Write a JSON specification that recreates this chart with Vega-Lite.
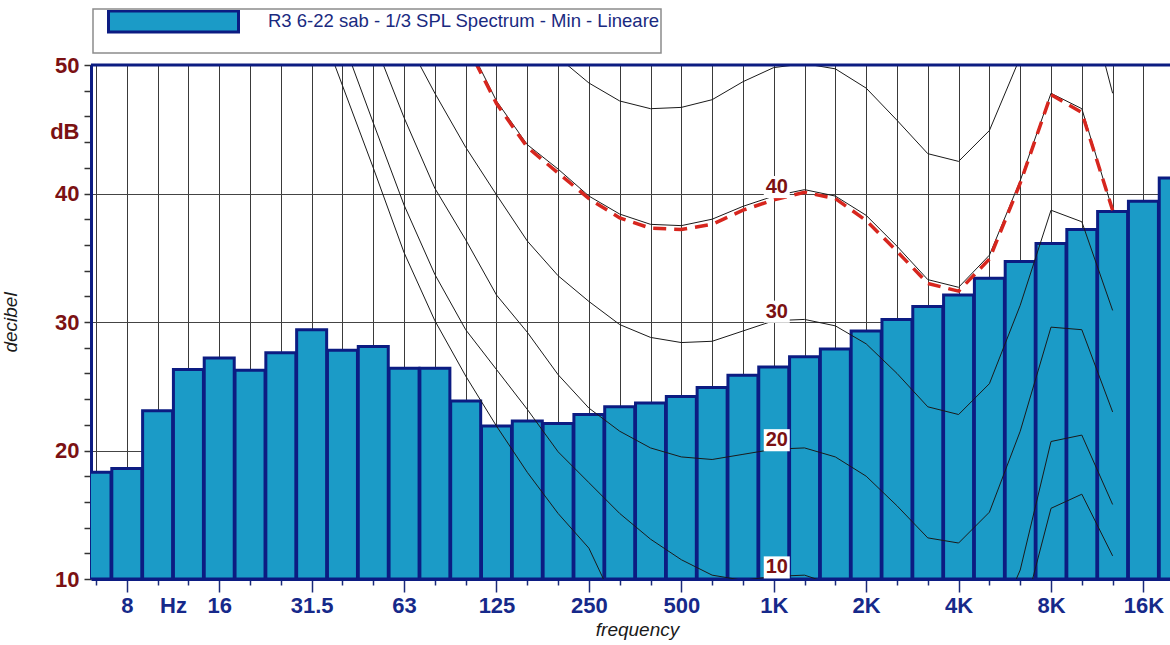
{
  "$schema": "https://vega.github.io/schema/vega-lite/v6.json",
  "autosize": {"type": "none"},
  "width": 1079,
  "height": 514,
  "padding": {"left": 91, "top": 65, "right": 0, "bottom": 66},
  "background": "white",
  "config": {
    "font": "Liberation Sans",
    "view": {"stroke": null},
    "legend": {"strokeWidth": 1.5}
  },
  "datasets": {
    "spectrum": [
      {"band": 0, "freq": "6.3", "spl": 18.3, "series": "R3 6-22 sab - 1/3 SPL Spectrum - Min - Lineare"},
      {"band": 1, "freq": "8", "spl": 18.6, "series": "R3 6-22 sab - 1/3 SPL Spectrum - Min - Lineare"},
      {"band": 2, "freq": "10", "spl": 23.1, "series": "R3 6-22 sab - 1/3 SPL Spectrum - Min - Lineare"},
      {"band": 3, "freq": "12.5", "spl": 26.3, "series": "R3 6-22 sab - 1/3 SPL Spectrum - Min - Lineare"},
      {"band": 4, "freq": "16", "spl": 27.2, "series": "R3 6-22 sab - 1/3 SPL Spectrum - Min - Lineare"},
      {"band": 5, "freq": "20", "spl": 26.25, "series": "R3 6-22 sab - 1/3 SPL Spectrum - Min - Lineare"},
      {"band": 6, "freq": "25", "spl": 27.6, "series": "R3 6-22 sab - 1/3 SPL Spectrum - Min - Lineare"},
      {"band": 7, "freq": "31.5", "spl": 29.4, "series": "R3 6-22 sab - 1/3 SPL Spectrum - Min - Lineare"},
      {"band": 8, "freq": "40", "spl": 27.8, "series": "R3 6-22 sab - 1/3 SPL Spectrum - Min - Lineare"},
      {"band": 9, "freq": "50", "spl": 28.1, "series": "R3 6-22 sab - 1/3 SPL Spectrum - Min - Lineare"},
      {"band": 10, "freq": "63", "spl": 26.4, "series": "R3 6-22 sab - 1/3 SPL Spectrum - Min - Lineare"},
      {"band": 11, "freq": "80", "spl": 26.4, "series": "R3 6-22 sab - 1/3 SPL Spectrum - Min - Lineare"},
      {"band": 12, "freq": "100", "spl": 23.85, "series": "R3 6-22 sab - 1/3 SPL Spectrum - Min - Lineare"},
      {"band": 13, "freq": "125", "spl": 21.9, "series": "R3 6-22 sab - 1/3 SPL Spectrum - Min - Lineare"},
      {"band": 14, "freq": "160", "spl": 22.3, "series": "R3 6-22 sab - 1/3 SPL Spectrum - Min - Lineare"},
      {"band": 15, "freq": "200", "spl": 22.1, "series": "R3 6-22 sab - 1/3 SPL Spectrum - Min - Lineare"},
      {"band": 16, "freq": "250", "spl": 22.8, "series": "R3 6-22 sab - 1/3 SPL Spectrum - Min - Lineare"},
      {"band": 17, "freq": "315", "spl": 23.4, "series": "R3 6-22 sab - 1/3 SPL Spectrum - Min - Lineare"},
      {"band": 18, "freq": "400", "spl": 23.7, "series": "R3 6-22 sab - 1/3 SPL Spectrum - Min - Lineare"},
      {"band": 19, "freq": "500", "spl": 24.2, "series": "R3 6-22 sab - 1/3 SPL Spectrum - Min - Lineare"},
      {"band": 20, "freq": "630", "spl": 24.9, "series": "R3 6-22 sab - 1/3 SPL Spectrum - Min - Lineare"},
      {"band": 21, "freq": "800", "spl": 25.85, "series": "R3 6-22 sab - 1/3 SPL Spectrum - Min - Lineare"},
      {"band": 22, "freq": "1K", "spl": 26.5, "series": "R3 6-22 sab - 1/3 SPL Spectrum - Min - Lineare"},
      {"band": 23, "freq": "1.25K", "spl": 27.3, "series": "R3 6-22 sab - 1/3 SPL Spectrum - Min - Lineare"},
      {"band": 24, "freq": "1.6K", "spl": 27.9, "series": "R3 6-22 sab - 1/3 SPL Spectrum - Min - Lineare"},
      {"band": 25, "freq": "2K", "spl": 29.3, "series": "R3 6-22 sab - 1/3 SPL Spectrum - Min - Lineare"},
      {"band": 26, "freq": "2.5K", "spl": 30.2, "series": "R3 6-22 sab - 1/3 SPL Spectrum - Min - Lineare"},
      {"band": 27, "freq": "3.15K", "spl": 31.2, "series": "R3 6-22 sab - 1/3 SPL Spectrum - Min - Lineare"},
      {"band": 28, "freq": "4K", "spl": 32.1, "series": "R3 6-22 sab - 1/3 SPL Spectrum - Min - Lineare"},
      {"band": 29, "freq": "5K", "spl": 33.4, "series": "R3 6-22 sab - 1/3 SPL Spectrum - Min - Lineare"},
      {"band": 30, "freq": "6.3K", "spl": 34.7, "series": "R3 6-22 sab - 1/3 SPL Spectrum - Min - Lineare"},
      {"band": 31, "freq": "8K", "spl": 36.1, "series": "R3 6-22 sab - 1/3 SPL Spectrum - Min - Lineare"},
      {"band": 32, "freq": "10K", "spl": 37.2, "series": "R3 6-22 sab - 1/3 SPL Spectrum - Min - Lineare"},
      {"band": 33, "freq": "12.5K", "spl": 38.6, "series": "R3 6-22 sab - 1/3 SPL Spectrum - Min - Lineare"},
      {"band": 34, "freq": "16K", "spl": 39.4, "series": "R3 6-22 sab - 1/3 SPL Spectrum - Min - Lineare"},
      {"band": 35, "freq": "20K", "spl": 41.2, "series": "R3 6-22 sab - 1/3 SPL Spectrum - Min - Lineare"}
    ],
    "contours": [
      {"phon": 0, "band": 7, "spl": 54.8}, {"phon": 0, "band": 8, "spl": 48.4}, {"phon": 0, "band": 9, "spl": 42.0},
      {"phon": 0, "band": 10, "spl": 35.4}, {"phon": 0, "band": 11, "spl": 30.1}, {"phon": 0, "band": 12, "spl": 25.8},
      {"phon": 0, "band": 13, "spl": 21.9}, {"phon": 0, "band": 14, "spl": 18.3}, {"phon": 0, "band": 15, "spl": 15.1},
      {"phon": 0, "band": 16, "spl": 12.4}, {"phon": 0, "band": 17, "spl": 7.3}, {"phon": 0, "band": 18, "spl": 4.5},
      {"phon": 0, "band": 19, "spl": 3.0}, {"phon": 0, "band": 20, "spl": 2.0}, {"phon": 0, "band": 21, "spl": 1.0},
      {"phon": 0, "band": 22, "spl": 0.5}, {"phon": 0, "band": 23, "spl": 1.0}, {"phon": 0, "band": 24, "spl": 0.0},
      {"phon": 0, "band": 25, "spl": -2.0}, {"phon": 0, "band": 26, "spl": -5.0}, {"phon": 0, "band": 27, "spl": -7.0},
      {"phon": 0, "band": 28, "spl": -7.5}, {"phon": 0, "band": 29, "spl": -3.0}, {"phon": 0, "band": 30, "spl": 6.3},
      {"phon": 0, "band": 31, "spl": 15.5}, {"phon": 0, "band": 32, "spl": 16.6}, {"phon": 0, "band": 33, "spl": 11.8},

      {"phon": 10, "band": 8, "spl": 52.0}, {"phon": 10, "band": 9, "spl": 45.5}, {"phon": 10, "band": 10, "spl": 39.1},
      {"phon": 10, "band": 11, "spl": 33.7}, {"phon": 10, "band": 12, "spl": 29.4}, {"phon": 10, "band": 13, "spl": 26.3},
      {"phon": 10, "band": 14, "spl": 23.2}, {"phon": 10, "band": 15, "spl": 19.9}, {"phon": 10, "band": 16, "spl": 17.5},
      {"phon": 10, "band": 17, "spl": 15.1}, {"phon": 10, "band": 18, "spl": 13.1}, {"phon": 10, "band": 19, "spl": 11.5},
      {"phon": 10, "band": 20, "spl": 10.3}, {"phon": 10, "band": 21, "spl": 9.9}, {"phon": 10, "band": 22, "spl": 10.2},
      {"phon": 10, "band": 23, "spl": 10.3}, {"phon": 10, "band": 24, "spl": 9.5}, {"phon": 10, "band": 25, "spl": 7.8},
      {"phon": 10, "band": 26, "spl": 5.5}, {"phon": 10, "band": 27, "spl": 3.2}, {"phon": 10, "band": 28, "spl": 2.8},
      {"phon": 10, "band": 29, "spl": 5.2}, {"phon": 10, "band": 30, "spl": 10.7}, {"phon": 10, "band": 31, "spl": 20.7},
      {"phon": 10, "band": 32, "spl": 21.2}, {"phon": 10, "band": 33, "spl": 15.8},

      {"phon": 20, "band": 9, "spl": 52.0}, {"phon": 20, "band": 10, "spl": 45.9}, {"phon": 20, "band": 11, "spl": 40.4},
      {"phon": 20, "band": 12, "spl": 36.4}, {"phon": 20, "band": 13, "spl": 32.1}, {"phon": 20, "band": 14, "spl": 29.2},
      {"phon": 20, "band": 15, "spl": 25.9}, {"phon": 20, "band": 16, "spl": 23.3}, {"phon": 20, "band": 17, "spl": 21.5},
      {"phon": 20, "band": 18, "spl": 20.2}, {"phon": 20, "band": 19, "spl": 19.5}, {"phon": 20, "band": 20, "spl": 19.3},
      {"phon": 20, "band": 21, "spl": 19.7}, {"phon": 20, "band": 22, "spl": 20.1}, {"phon": 20, "band": 23, "spl": 20.2},
      {"phon": 20, "band": 24, "spl": 19.5}, {"phon": 20, "band": 25, "spl": 18.0}, {"phon": 20, "band": 26, "spl": 15.7},
      {"phon": 20, "band": 27, "spl": 13.2}, {"phon": 20, "band": 28, "spl": 12.8}, {"phon": 20, "band": 29, "spl": 15.2},
      {"phon": 20, "band": 30, "spl": 21.5}, {"phon": 20, "band": 31, "spl": 29.6}, {"phon": 20, "band": 32, "spl": 29.4},
      {"phon": 20, "band": 33, "spl": 23.0},

      {"phon": 30, "band": 10, "spl": 52.3}, {"phon": 30, "band": 11, "spl": 47.8}, {"phon": 30, "band": 12, "spl": 43.6},
      {"phon": 30, "band": 13, "spl": 39.9}, {"phon": 30, "band": 14, "spl": 36.3}, {"phon": 30, "band": 15, "spl": 33.6},
      {"phon": 30, "band": 16, "spl": 31.6}, {"phon": 30, "band": 17, "spl": 29.8}, {"phon": 30, "band": 18, "spl": 28.8},
      {"phon": 30, "band": 19, "spl": 28.4}, {"phon": 30, "band": 20, "spl": 28.5}, {"phon": 30, "band": 21, "spl": 29.3},
      {"phon": 30, "band": 22, "spl": 30.1}, {"phon": 30, "band": 23, "spl": 30.2}, {"phon": 30, "band": 24, "spl": 29.7},
      {"phon": 30, "band": 25, "spl": 28.3}, {"phon": 30, "band": 26, "spl": 26.0}, {"phon": 30, "band": 27, "spl": 23.4},
      {"phon": 30, "band": 28, "spl": 22.8}, {"phon": 30, "band": 29, "spl": 25.2}, {"phon": 30, "band": 30, "spl": 31.3},
      {"phon": 30, "band": 31, "spl": 38.7}, {"phon": 30, "band": 32, "spl": 37.8}, {"phon": 30, "band": 33, "spl": 30.9},

      {"phon": 40, "band": 12, "spl": 52.0}, {"phon": 40, "band": 13, "spl": 47.2}, {"phon": 40, "band": 14, "spl": 43.8},
      {"phon": 40, "band": 15, "spl": 41.9}, {"phon": 40, "band": 16, "spl": 39.8}, {"phon": 40, "band": 17, "spl": 38.4},
      {"phon": 40, "band": 18, "spl": 37.6}, {"phon": 40, "band": 19, "spl": 37.5}, {"phon": 40, "band": 20, "spl": 38.0},
      {"phon": 40, "band": 21, "spl": 39.0}, {"phon": 40, "band": 22, "spl": 39.8}, {"phon": 40, "band": 23, "spl": 40.3},
      {"phon": 40, "band": 24, "spl": 39.8}, {"phon": 40, "band": 25, "spl": 38.3}, {"phon": 40, "band": 26, "spl": 35.9},
      {"phon": 40, "band": 27, "spl": 33.3}, {"phon": 40, "band": 28, "spl": 32.7}, {"phon": 40, "band": 29, "spl": 35.2},
      {"phon": 40, "band": 30, "spl": 41.0}, {"phon": 40, "band": 31, "spl": 47.8}, {"phon": 40, "band": 32, "spl": 46.6},
      {"phon": 40, "band": 33, "spl": 38.7},

      {"phon": 50, "band": 14, "spl": 54.0}, {"phon": 50, "band": 15, "spl": 50.6}, {"phon": 50, "band": 16, "spl": 48.6},
      {"phon": 50, "band": 17, "spl": 47.2}, {"phon": 50, "band": 18, "spl": 46.6}, {"phon": 50, "band": 19, "spl": 46.7},
      {"phon": 50, "band": 20, "spl": 47.3}, {"phon": 50, "band": 21, "spl": 48.7}, {"phon": 50, "band": 22, "spl": 49.8},
      {"phon": 50, "band": 23, "spl": 50.1}, {"phon": 50, "band": 24, "spl": 49.7}, {"phon": 50, "band": 25, "spl": 48.2},
      {"phon": 50, "band": 26, "spl": 45.7}, {"phon": 50, "band": 27, "spl": 43.1}, {"phon": 50, "band": 28, "spl": 42.5},
      {"phon": 50, "band": 29, "spl": 44.9}, {"phon": 50, "band": 30, "spl": 50.6}, {"phon": 50, "band": 31, "spl": 57.5},
      {"phon": 50, "band": 32, "spl": 57.0}, {"phon": 50, "band": 33, "spl": 47.8}
    ],
    "fit": [
      {"band": 12, "spl": 51.7}, {"band": 13, "spl": 47.0}, {"band": 14, "spl": 43.6}, {"band": 15, "spl": 41.6},
      {"band": 16, "spl": 39.6}, {"band": 17, "spl": 38.1}, {"band": 18, "spl": 37.3}, {"band": 19, "spl": 37.2},
      {"band": 20, "spl": 37.6}, {"band": 21, "spl": 38.7}, {"band": 22, "spl": 39.5}, {"band": 23, "spl": 40.1},
      {"band": 24, "spl": 39.6}, {"band": 25, "spl": 37.9}, {"band": 26, "spl": 35.5}, {"band": 27, "spl": 33.0},
      {"band": 28, "spl": 32.4}, {"band": 29, "spl": 34.9}, {"band": 30, "spl": 40.8}, {"band": 31, "spl": 47.7},
      {"band": 32, "spl": 46.3}, {"band": 33, "spl": 38.7}
    ]
  },
  "layer": [
    {
      "data": {"name": "spectrum"},
      "mark": {"type": "bar", "width": 30, "stroke": "#0c1c82", "strokeWidth": 3, "clip": true},
      "encoding": {
        "x": {
          "field": "band", "type": "quantitative",
          "scale": {"domain": [0, 34.7], "nice": false, "zero": false},
          "axis": {
            "values": [0,1,2,3,4,5,6,7,8,9,10,11,12,13,14,15,16,17,18,19,20,21,22,23,24,25,26,27,28,29,30,31,32,33,34,2.5],
            "tickCount": 200,
            "labelExpr": "datum.value == 2.5 ? 'Hz' : (datum.value % 3 == 1 ? ['8','16','31.5','63','125','250','500','1K','2K','4K','8K','16K'][(datum.value - 1) / 3] : '')",
            "labelFont": "Liberation Sans", "labelFontSize": 22, "labelFontWeight": "bold", "labelColor": "#16298a",
            "labelPadding": 3, "labelOverlap": false, "labelFlush": false, "labelBound": false,
            "tickSize": {"condition": {"test": "datum.value % 3 == 1 || datum.value == 2.5", "value": 13}, "value": 6},
            "tickOpacity": {"condition": {"test": "datum.value == 2.5", "value": 0}, "value": 1},
            "tickColor": "#1a2a7a", "tickWidth": 1.5,
            "grid": true, "gridColor": "#3a3a3a", "gridWidth": 1,
            "gridOpacity": {"condition": {"test": "datum.value == 2.5", "value": 0}, "value": 1},
            "domainColor": "#0c1c82", "domainWidth": 3,
            "title": "frequency", "titleFont": "Liberation Sans", "titleFontSize": 19, "titleFontStyle": "italic",
            "titleFontWeight": "normal", "titleColor": "#1a1a1a", "titlePadding": 4, "titleX": 546
          }
        },
        "y": {
          "field": "spl", "type": "quantitative",
          "scale": {"domain": [10, 50], "nice": false, "zero": false},
          "axis": {
            "values": [10,12,14,16,18,20,22,24,26,28,30,32,34,36,38,40,42,44,46,48,50,44.8],
            "tickCount": 200,
            "labelExpr": "datum.value == 44.8 ? 'dB' : (datum.value % 10 == 0 ? format(datum.value, 'd') : '')",
            "labelFont": "Liberation Sans", "labelFontSize": 22, "labelFontWeight": "bold", "labelColor": "#7b1113",
            "labelPadding": 5, "labelOverlap": false, "labelFlush": false, "labelBound": false,
            "tickSize": 7, "tickColor": "#333333", "tickWidth": 1.5,
            "tickOpacity": {"condition": {"test": "datum.value == 44.8", "value": 0}, "value": 1},
            "grid": true, "gridColor": "#444444", "gridWidth": 1.2,
            "gridOpacity": {"condition": {"test": "datum.value % 10 == 0", "value": 1}, "value": 0},
            "domainColor": "#0c1c82", "domainWidth": 3,
            "title": "decibel", "titleFont": "Liberation Sans", "titleFontSize": 19, "titleFontStyle": "italic",
            "titleFontWeight": "normal", "titleColor": "#1a1a1a", "titlePadding": 29
          }
        },
        "y2": {"datum": 10},
        "color": {
          "field": "series", "type": "nominal",
          "scale": {"range": ["#1b9bc7"]},
          "legend": {
            "orient": "none", "legendX": 2, "legendY": -56,
            "title": null,
            "symbolType": "M-1,-0.306L1,-0.306L1,0.014L-1,0.014Z M16.5,-0.2L16.7,-0.2L16.7,0L16.5,0Z", "symbolSize": 16900,
            "symbolStrokeColor": "#0c1c82", "symbolStrokeWidth": 3, "symbolOpacity": 1, "symbolOffset": 13,
            "clipHeight": 42, "labelOffset": 28, "labelFontSize": 18.5, "labelColor": "#1a2a7f",
            "labelBaseline": "bottom",
            "labelLimit": 1200, "labelFont": "Liberation Sans",
            "padding": 1, "strokeColor": "#8c8c8c", "fillColor": "white"
          }
        }
      }
    },
    {
      "data": {"name": "contours"},
      "mark": {"type": "line", "color": "#1a1a1a", "strokeWidth": 1, "clip": true},
      "encoding": {
        "x": {"field": "band", "type": "quantitative"},
        "y": {"field": "spl", "type": "quantitative"},
        "detail": {"field": "phon", "type": "nominal"}
      }
    },
    {
      "data": {"name": "fit"},
      "mark": {"type": "line", "color": "#d7261e", "strokeWidth": 3.5, "strokeDash": [13, 8], "clip": true},
      "encoding": {
        "x": {"field": "band", "type": "quantitative"},
        "y": {"field": "spl", "type": "quantitative"}
      }
    },
    {
      "data": {"values": [{}]},
      "mark": {"type": "rule", "color": "#0c1c82", "strokeWidth": 3},
      "encoding": {"y": {"datum": 50}}
    },
    {
      "data": {"name": "contours"},
      "transform": [{"filter": "datum.band == 22 && datum.phon >= 10 && datum.phon <= 40"}],
      "mark": {"type": "point", "shape": "M-1,-0.85L1,-0.85L1,0.85L-1,0.85Z", "size": 676, "filled": true, "color": "white", "opacity": 1, "yOffset": -9, "xOffset": 3},
      "encoding": {
        "x": {"field": "band", "type": "quantitative"},
        "y": {"field": "spl", "type": "quantitative"}
      }
    },
    {
      "data": {"name": "contours"},
      "transform": [{"filter": "datum.band == 22 && datum.phon >= 10 && datum.phon <= 40"}],
      "mark": {"type": "text", "fontSize": 20, "fontWeight": "bold", "color": "#7b1113", "yOffset": -9, "xOffset": 3, "font": "Liberation Sans"},
      "encoding": {
        "x": {"field": "band", "type": "quantitative"},
        "y": {"field": "spl", "type": "quantitative"},
        "text": {"field": "phon", "type": "quantitative"}
      }
    }
  ]
}
